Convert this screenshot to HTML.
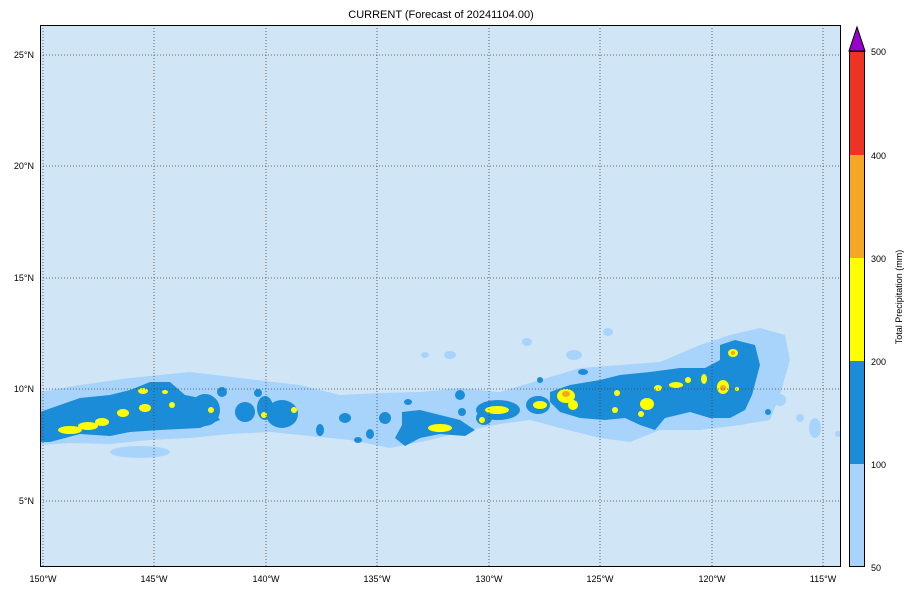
<!DOCTYPE html>
<html><head><meta charset="utf-8"><style>
html,body{margin:0;padding:0;background:#fff;}
svg{display:block;font-family:"Liberation Sans",sans-serif;}
</style></head><body>
<svg width="915" height="594" viewBox="0 0 915 594" xmlns="http://www.w3.org/2000/svg">
<defs><clipPath id="c"><rect x="40" y="25" width="801" height="542"/></clipPath></defs>
<rect x="40" y="25" width="801" height="542" fill="#d0e6f6"/>
<g clip-path="url(#c)">
<!-- light blue band -->
<g fill="#a8d4fb">
<path d="M40,392 L80,385 L130,378 L190,372 L240,378 L300,385 L340,395 L380,393 L420,392 L460,388 L500,392 L540,380 L580,368 L620,365 L660,362 L700,345 L730,335 L760,328 L785,335 L790,360 L780,395 L770,420 L740,425 L700,430 L660,430 L630,442 L600,438 L560,428 L530,420 L500,424 L470,430 L430,440 L390,448 L350,440 L310,436 L270,432 L230,434 L190,438 L150,440 L110,444 L70,443 L40,445 Z"/>
<ellipse cx="140" cy="452" rx="30" ry="6"/>
<ellipse cx="608" cy="332" rx="5" ry="4"/>
<ellipse cx="527" cy="342" rx="5" ry="4"/>
<ellipse cx="574" cy="355" rx="8" ry="5"/>
<ellipse cx="450" cy="355" rx="6" ry="4"/>
<ellipse cx="815" cy="428" rx="6" ry="10"/>
<ellipse cx="800" cy="418" rx="4" ry="4"/>
<ellipse cx="780" cy="400" rx="6" ry="6"/>
<ellipse cx="425" cy="355" rx="4" ry="3"/>
<ellipse cx="838" cy="434" rx="3" ry="3"/>
</g>
<!-- blue -->
<g fill="#1a8cd8">
<path d="M40,412 L60,405 L80,398 L110,395 L130,390 L150,382 L170,382 L185,395 L200,398 L210,405 L220,420 L200,428 L160,430 L130,432 L110,436 L80,434 L50,442 L40,442 Z"/>
<ellipse cx="175" cy="412" rx="18" ry="14"/>
<ellipse cx="205" cy="410" rx="15" ry="16"/>
<ellipse cx="245" cy="412" rx="10" ry="10"/>
<ellipse cx="282" cy="414" rx="16" ry="14"/>
<ellipse cx="265" cy="408" rx="8" ry="12"/>
<ellipse cx="222" cy="392" rx="5" ry="5"/>
<ellipse cx="258" cy="393" rx="4" ry="4"/>
<ellipse cx="320" cy="430" rx="4" ry="6"/>
<ellipse cx="345" cy="418" rx="6" ry="5"/>
<ellipse cx="370" cy="434" rx="4" ry="5"/>
<ellipse cx="358" cy="440" rx="4" ry="3"/>
<path d="M402,412 L420,410 L440,415 L460,420 L475,430 L465,436 L440,434 L420,438 L405,446 L395,438 L402,425 Z"/>
<ellipse cx="385" cy="418" rx="6" ry="6"/>
<ellipse cx="408" cy="402" rx="4" ry="3"/>
<ellipse cx="460" cy="395" rx="5" ry="5"/>
<ellipse cx="462" cy="412" rx="4" ry="4"/>
<ellipse cx="498" cy="410" rx="22" ry="10"/>
<ellipse cx="484" cy="418" rx="8" ry="7"/>
<ellipse cx="538" cy="405" rx="12" ry="9"/>
<ellipse cx="540" cy="380" rx="3" ry="3"/>
<path d="M550,392 L570,385 L600,380 L620,375 L650,372 L680,368 L705,368 L720,360 L720,345 L735,340 L755,345 L760,365 L752,395 L745,410 L730,418 L710,418 L690,412 L665,418 L655,430 L640,425 L625,418 L605,420 L580,418 L560,412 L550,402 Z"/>
<ellipse cx="768" cy="412" rx="3" ry="3"/>
<ellipse cx="583" cy="372" rx="5" ry="3"/>
</g>
<!-- yellow -->
<g fill="#ffff00">
<ellipse cx="70" cy="430" rx="12" ry="4"/>
<ellipse cx="88" cy="426" rx="10" ry="4"/>
<ellipse cx="102" cy="422" rx="7" ry="4"/>
<ellipse cx="123" cy="413" rx="6" ry="4"/>
<ellipse cx="145" cy="408" rx="6" ry="4"/>
<ellipse cx="143" cy="391" rx="5" ry="3"/>
<ellipse cx="172" cy="405" rx="3" ry="3"/>
<ellipse cx="165" cy="392" rx="3" ry="2"/>
<ellipse cx="211" cy="410" rx="3" ry="3"/>
<ellipse cx="264" cy="415" rx="3" ry="3"/>
<ellipse cx="294" cy="410" rx="3" ry="3"/>
<ellipse cx="440" cy="428" rx="12" ry="4"/>
<ellipse cx="497" cy="410" rx="12" ry="4"/>
<ellipse cx="482" cy="420" rx="3" ry="3"/>
<ellipse cx="540" cy="405" rx="7" ry="4"/>
<ellipse cx="566" cy="396" rx="9" ry="7"/>
<ellipse cx="573" cy="405" rx="5" ry="5"/>
<ellipse cx="617" cy="393" rx="3" ry="3"/>
<ellipse cx="615" cy="410" rx="3" ry="3"/>
<ellipse cx="647" cy="404" rx="7" ry="6"/>
<ellipse cx="641" cy="414" rx="3" ry="3"/>
<ellipse cx="658" cy="388" rx="4" ry="3"/>
<ellipse cx="676" cy="385" rx="7" ry="3"/>
<ellipse cx="704" cy="379" rx="3" ry="5"/>
<ellipse cx="688" cy="380" rx="3" ry="3"/>
<ellipse cx="723" cy="387" rx="6" ry="7"/>
<ellipse cx="733" cy="353" rx="5" ry="4"/>
<ellipse cx="737" cy="389" rx="2" ry="2"/>
</g>
<ellipse cx="566" cy="394" rx="4" ry="3" fill="#f5a623"/>
<ellipse cx="723" cy="388" rx="3" ry="3" fill="#f5a623"/>
<ellipse cx="733" cy="353" rx="2" ry="2" fill="#f5a623"/>
<!-- grid -->
<g stroke="#444" stroke-width="0.8" stroke-dasharray="1,2" fill="none">
<line x1="43" y1="25" x2="43" y2="567"/><line x1="154" y1="25" x2="154" y2="567"/>
<line x1="266" y1="25" x2="266" y2="567"/><line x1="377" y1="25" x2="377" y2="567"/>
<line x1="489" y1="25" x2="489" y2="567"/><line x1="600" y1="25" x2="600" y2="567"/>
<line x1="712" y1="25" x2="712" y2="567"/><line x1="823" y1="25" x2="823" y2="567"/>
<line x1="40" y1="55" x2="841" y2="55"/><line x1="40" y1="166" x2="841" y2="166"/>
<line x1="40" y1="278" x2="841" y2="278"/><line x1="40" y1="389" x2="841" y2="389"/>
<line x1="40" y1="501" x2="841" y2="501"/>
</g>
</g>
<rect x="40.5" y="25.5" width="800" height="541" fill="none" stroke="#000" stroke-width="1"/>
<text x="441" y="18" font-size="11" text-anchor="middle">CURRENT (Forecast of 20241104.00)</text>
<g font-size="9" text-anchor="end">
<text x="34" y="58">25°N</text><text x="34" y="169">20°N</text><text x="34" y="281">15°N</text>
<text x="34" y="392">10°N</text><text x="34" y="504">5°N</text>
</g>
<g font-size="9" text-anchor="middle">
<text x="43" y="582">150°W</text><text x="154" y="582">145°W</text><text x="266" y="582">140°W</text>
<text x="377" y="582">135°W</text><text x="489" y="582">130°W</text><text x="600" y="582">125°W</text>
<text x="712" y="582">120°W</text><text x="823" y="582">115°W</text>
</g>
<!-- colorbar -->
<rect x="849" y="464" width="16" height="103" fill="#a8d4fb"/>
<rect x="849" y="361" width="16" height="103" fill="#1a8cd8"/>
<rect x="849" y="258" width="16" height="103" fill="#ffff00"/>
<rect x="849" y="155" width="16" height="103" fill="#f5a623"/>
<rect x="849" y="51" width="16" height="104" fill="#ee3322"/>
<polygon points="849,51 865,51 857,27" fill="#9900cc" stroke="#000" stroke-width="1"/>
<rect x="849.5" y="51.5" width="15" height="515" fill="none" stroke="#000" stroke-width="1"/>
<g font-size="9">
<text x="871" y="571">50</text><text x="871" y="468">100</text><text x="871" y="365">200</text>
<text x="871" y="262">300</text><text x="871" y="159">400</text><text x="871" y="55">500</text>
</g>
<text transform="translate(902,297) rotate(-90)" font-size="9" text-anchor="middle">Total Precipitation (mm)</text>
</svg>
</body></html>
